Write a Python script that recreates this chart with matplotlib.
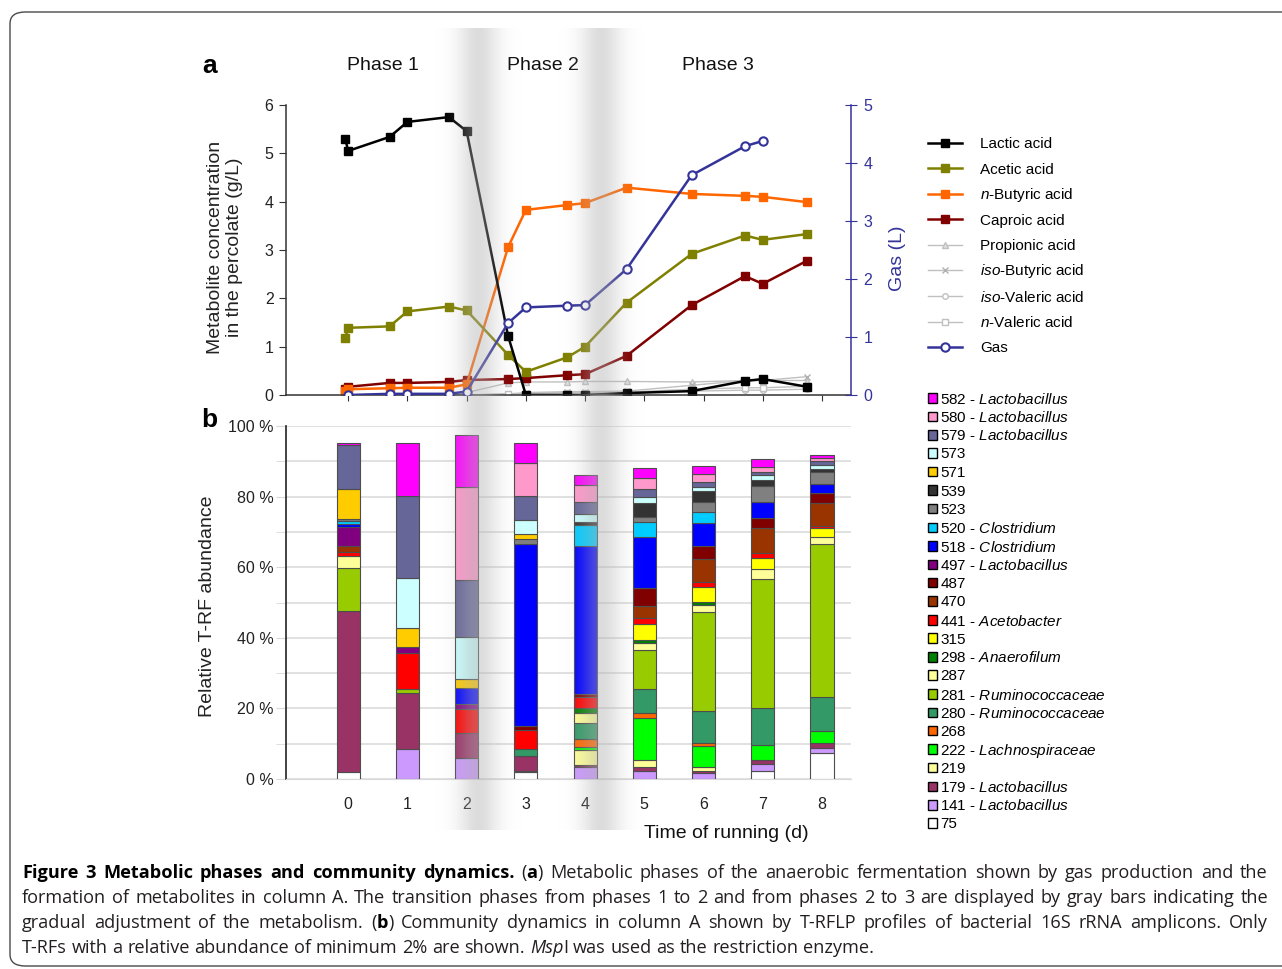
import re
import numpy as np
import matplotlib
matplotlib.use("Agg")
import matplotlib.pyplot as plt
from matplotlib.patches import Patch, FancyBboxPatch

plt.rcParams['font.family'] = ['Liberation Sans', 'DejaVu Sans']
plt.rcParams['mathtext.fontset'] = 'custom'
plt.rcParams['mathtext.rm'] = 'Liberation Sans'
plt.rcParams['mathtext.it'] = 'Liberation Sans:italic'

W, H = 1282, 969

# ---- panel a: metabolites in the percolate (g/L) and gas (L), time in days
sample_days = [-0.05, 0.0, 0.7, 1.0, 1.7, 2.0, 2.7, 3.0, 3.7, 4.0, 4.7, 5.8, 6.7, 7.0, 7.75]
lactic = [5.30, 5.05, 5.34, 5.65, 5.75, 5.46, 1.22, 0.0, 0.0, 0.0, 0.04, 0.08, 0.29, 0.33, 0.17]
acetic = [1.18, 1.39, 1.42, 1.73, 1.83, 1.75, 0.83, 0.48, 0.78, 1.00, 1.91, 2.92, 3.30, 3.21, 3.33]
butyric = [0.08, 0.12, 0.14, 0.15, 0.15, 0.22, 3.06, 3.83, 3.93, 3.97, 4.29, 4.16, 4.12, 4.10, 3.99]
caproic = [0.12, 0.17, 0.25, 0.25, 0.27, 0.31, 0.33, 0.35, 0.41, 0.43, 0.81, 1.86, 2.46, 2.30, 2.78]
propionic = [0, 0, 0, 0, 0, 0.05, 0.25, 0.27, 0.27, 0.28, 0.28, 0.27, 0.30, 0.30, 0.30]
iso_butyric = [0, 0, 0, 0, 0, 0, 0.02, 0.05, 0.07, 0.07, 0.08, 0.20, 0.30, 0.30, 0.38]
iso_valeric = [0, 0, 0, 0, 0, 0, 0.02, 0.03, 0.05, 0.05, 0.05, 0.08, 0.10, 0.10, 0.12]
n_valeric = [0, 0, 0, 0, 0, 0, 0.02, 0.03, 0.05, 0.05, 0.06, 0.12, 0.15, 0.15, 0.18]
gas = [np.nan, 0.0, 0.02, 0.02, 0.02, 0.06, 1.24, 1.51, 1.54, 1.55, 2.17, 3.79, 4.29, 4.38, np.nan]

transition_days = [2.2, 4.27]
phase_names = ['Phase 1', 'Phase 2', 'Phase 3']

# ---- panel b: relative T-RF abundance (%) per day, stacked bottom -> top
days = [0, 1, 2, 3, 4, 5, 6, 7, 8]
trf_names = ['75', '141', '179', '219', '222', '268', '280', '281', '287', '298', '315', '441',
             '470', '487', '497', '518', '520', '523', '539', '571', '573', '579', '580', '582']
trf_genus = ['', 'Lactobacillus', 'Lactobacillus', '', 'Lachnospiraceae', '', 'Ruminococcaceae',
             'Ruminococcaceae', '', 'Anaerofilum', '', 'Acetobacter', '', '', 'Lactobacillus',
             'Clostridium', 'Clostridium', '', '', '', '', 'Lactobacillus', 'Lactobacillus', 'Lactobacillus']
trf_colors = ['#ffffff', '#cc99ff', '#993366', '#ffff99', '#00ff00', '#ff6600', '#339966', '#99cc00',
              '#ffff99', '#008000', '#ffff00', '#ff0000', '#993300', '#800000', '#800080', '#0000ff',
              '#00ccff', '#808080', '#333333', '#ffcc00', '#ccffff', '#666699', '#ff99cc', '#ff00ff']

abund_75 = [2.1, 0, 0, 1.9, 0, 0, 0, 2.4, 7.3]
abund_141 = [0, 8.4, 6.0, 0.5, 3.3, 2.4, 1.6, 1.9, 1.5]
abund_179 = [45.6, 15.9, 7.0, 4.2, 0.8, 0.9, 0.8, 1.1, 1.3]
abund_219 = [0, 0, 0, 0, 4.2, 2.1, 0.9, 0, 0]
abund_222 = [0, 0, 0, 0, 0.9, 11.8, 6.1, 4.3, 3.4]
abund_268 = [0, 0, 0, 0, 2.2, 1.5, 0.7, 0, 0]
abund_280 = [0, 0, 0, 1.9, 4.4, 6.8, 9.3, 10.4, 9.6]
abund_281 = [12.2, 1.3, 0, 0, 0, 11.0, 27.9, 36.5, 43.4]
abund_287 = [3.4, 0, 0, 0, 2.9, 1.9, 1.9, 2.8, 2.1]
abund_298 = [0, 0, 0, 0, 1.4, 0.9, 0.9, 0, 0]
abund_315 = [0, 0, 0, 0, 0, 4.5, 4.2, 3.3, 2.6]
abund_441 = [1.1, 10.2, 6.9, 5.4, 3.2, 1.9, 1.4, 1.4, 0.5]
abund_470 = [1.6, 0, 0, 0, 0, 3.3, 6.6, 7.1, 6.6]
abund_487 = [0, 0, 0, 1.2, 0.9, 5.2, 3.8, 2.8, 2.6]
abund_497 = [5.5, 1.7, 1.4, 0, 0, 0, 0, 0, 0]
abund_518 = [0.8, 0, 4.4, 51.6, 41.8, 14.4, 6.3, 4.4, 2.7]
abund_520 = [0.7, 0, 0, 0, 5.9, 4.1, 3.1, 0, 0]
abund_523 = [0.7, 0, 0, 1.2, 0, 1.4, 3.0, 4.7, 3.4]
abund_539 = [0, 0, 0, 0, 0.8, 4.2, 3.1, 1.7, 0.9]
abund_571 = [8.5, 5.4, 2.6, 1.4, 0, 0, 0, 0, 0]
abund_573 = [0, 14.0, 12.0, 4.0, 2.5, 1.6, 1.2, 1.4, 1.1]
abund_579 = [12.5, 23.3, 16.1, 6.9, 3.3, 2.2, 1.4, 0.9, 1.1]
abund_580 = [0, 0, 26.2, 9.2, 4.7, 3.3, 2.3, 1.4, 0.8]
abund_582 = [0.6, 15.1, 14.9, 5.7, 2.8, 2.8, 2.2, 2.2, 0.9]

abundance = [abund_75, abund_141, abund_179, abund_219, abund_222, abund_268, abund_280,
             abund_281, abund_287, abund_298, abund_315, abund_441, abund_470, abund_487,
             abund_497, abund_518, abund_520, abund_523, abund_539, abund_571, abund_573,
             abund_579, abund_580, abund_582]

caption_lines = [
    "**Figure 3 Metabolic phases and community dynamics.** (**a**) Metabolic phases of the anaerobic fermentation shown by gas production and the",
    "formation of metabolites in column A. The transition phases from phases 1 to 2 and from phases 2 to 3 are displayed by gray bars indicating the",
    "gradual adjustment of the metabolism. (**b**) Community dynamics in column A shown by T-RFLP profiles of bacterial 16S rRNA amplicons. Only",
    "T-RFs with a relative abundance of minimum 2% are shown. *Msp*I was used as the restriction enzyme.",
]


def box(l, t, r, b):
    return [l / W, 1 - b / H, (r - l) / W, (b - t) / H]


def fx(px):
    return px / W


def fy(py):
    return 1 - py / H


def legend_rows(handles, labels, x, y0, dy, **kw):
    # one single-entry legend per row keeps the row pitch exact
    for i, (h, lab) in enumerate(zip(handles, labels)):
        fig.legend([h], [lab], loc='center left', bbox_to_anchor=(fx(x), fy(y0 + dy * i)),
                   frameon=False, borderpad=0, borderaxespad=0, **kw)


fig = plt.figure(figsize=(W / 100, H / 100), dpi=100)
fig.patch.set_facecolor('white')

# rounded frame around the whole figure
fig.patches.append(FancyBboxPatch((fx(10), fy(966)), fx(1300) - fx(10), fy(12) - fy(966),
                                  boxstyle='round,pad=0,rounding_size=0.012',
                                  transform=fig.transFigure, fill=False,
                                  edgecolor='#4a4a4a', linewidth=1.0))

XLIM = (-1.05, 8.49)

# ---------------- panel a
ax = fig.add_axes(box(286, 105, 851, 395))
ax.set_facecolor('none')
ax.set_xlim(*XLIM)
ax.set_ylim(0, 6)

minor = '#c0c0c0'
h_prop, = ax.plot(sample_days, propionic, color=minor, lw=1, marker='^', ms=4, mfc='#e0e0e0', mec=minor)
h_ibut, = ax.plot(sample_days, iso_butyric, color=minor, lw=1, marker='x', ms=5, mec='#b0b0b0')
h_ival, = ax.plot(sample_days, iso_valeric, color=minor, lw=1, marker='o', ms=4, mfc='white', mec=minor)
h_nval, = ax.plot(sample_days, n_valeric, color=minor, lw=1, marker='s', ms=4, mfc='white', mec=minor)
h_cap, = ax.plot(sample_days, caproic, color='#800000', lw=1.8, marker='s', ms=5.5)
h_but, = ax.plot(sample_days, butyric, color='#ff6600', lw=1.8, marker='s', ms=5.5)
h_ace, = ax.plot(sample_days, acetic, color='#808000', lw=1.8, marker='s', ms=5.5)
h_lac, = ax.plot(sample_days, lactic, color='black', lw=1.8, marker='s', ms=5.5)

for s in ['top', 'right']:
    ax.spines[s].set_visible(False)
ax.spines['left'].set_color('#333333')
ax.spines['bottom'].set_color('#333333')
ax.spines['left'].set_linewidth(1.1)
ax.spines['bottom'].set_linewidth(1.1)
ax.set_xticks(days)
ax.tick_params(axis='x', length=4, color='#333333', labelbottom=False)
ax.set_yticks(range(0, 7))
ax.tick_params(axis='y', length=5, color='#333333', labelsize=11.5, labelcolor='#222222', pad=4)

ax2 = ax.twinx()
ax2.set_facecolor('none')
ax2.set_ylim(0, 5)
navy = '#333399'
h_gas, = ax2.plot(sample_days, gas, color=navy, lw=1.8, marker='o', ms=6, mfc='white', mec=navy, mew=1.5)
for s in ['top', 'left', 'bottom']:
    ax2.spines[s].set_visible(False)
ax2.spines['right'].set_color(navy)
ax2.spines['right'].set_linewidth(1.1)
ax2.set_yticks(range(0, 6))
ax2.tick_params(axis='y', direction='inout', length=8, color=navy, labelcolor=navy, labelsize=11.5, pad=5)

fig.text(fx(225), fy(247), 'Metabolite concentration\nin the percolate (g/L)', rotation=90,
         ha='center', va='center', fontsize=14, color='#222222', linespacing=1.2)
fig.text(fx(897), fy(258), 'Gas (L)', rotation=90, ha='center', va='center', fontsize=14, color=navy)
fig.text(fx(210), fy(66), 'a', ha='center', va='center', fontsize=19, fontweight='bold')

for name, px in zip(phase_names, [383, 543, 718]):
    fig.text(fx(px), fy(66), name, ha='center', va='center', fontsize=14, color='#111111')

handles = [h_lac, h_ace, h_but, h_cap, h_prop, h_ibut, h_ival, h_nval, h_gas]
labels = ['Lactic acid', 'Acetic acid', r'$\mathit{n}$-Butyric acid', 'Caproic acid', 'Propionic acid',
          r'$\mathit{iso}$-Butyric acid', r'$\mathit{iso}$-Valeric acid', r'$\mathit{n}$-Valeric acid', 'Gas']
legend_rows(handles, labels, 928, 144, 25.5, fontsize=11, handlelength=2.2, handletextpad=1.2)

# ---------------- panel b
axb = fig.add_axes(box(286, 426, 851, 779))
axb.set_facecolor('none')
axb.set_xlim(*XLIM)
axb.set_ylim(0, 100)
bottom = np.zeros(len(days))
for vals, col in zip(abundance, trf_colors):
    v = np.array(vals, dtype=float)
    axb.bar(days, v, width=0.39, bottom=bottom, color=col, edgecolor='#4d4d4d',
            linewidth=np.where(v > 0, 0.8, 0.0), zorder=3)
    bottom += v

axb.set_yticks(range(0, 101, 20))
axb.set_yticklabels([f'{v} %' for v in range(0, 101, 20)])
axb.set_yticks(range(10, 100, 20), minor=True)
axb.grid(axis='y', which='both', color='#d9d9d9', lw=1.1, zorder=0)
axb.tick_params(axis='y', which='both', length=7, color='#d9d9d9', labelsize=11.5, labelcolor='#222222', pad=2)
axb.set_xticks(days)
axb.tick_params(axis='x', length=0, pad=13, labelsize=11.5, labelcolor='#222222')
for s in ['top', 'right']:
    axb.spines[s].set_visible(False)
axb.spines['bottom'].set_color('#d9d9d9')
axb.spines['left'].set_color('#222222')
axb.spines['left'].set_linewidth(1.2)

fig.text(fx(207), fy(606), 'Relative T-RF abundance', rotation=90, ha='center', va='center',
         fontsize=14, color='#222222')
fig.text(fx(726), fy(833), 'Time of running (d)', ha='center', va='center', fontsize=14, color='#111111')
fig.text(fx(209), fy(420), 'b', ha='center', va='center', fontsize=19, fontweight='bold')

trf_handles = []
trf_labels = []
for name, genus, col in zip(trf_names[::-1], trf_genus[::-1], trf_colors[::-1]):
    trf_handles.append(Patch(facecolor=col, edgecolor='black', linewidth=1))
    trf_labels.append(f'{name} - $\\mathit{{{genus}}}$' if genus else name)
legend_rows(trf_handles, trf_labels, 928, 399, 18.5, fontsize=11, handlelength=0.6,
            handleheight=0.6, handletextpad=0.2)

# ---------------- gray transition bands, drawn over both panels
ov = fig.add_axes([0, 0, 1, 1], zorder=10)
ov.set_xlim(0, W)
ov.set_ylim(H, 0)
ov.axis('off')
xs = np.arange(W) + 0.5
alpha = np.zeros(W)
for d in transition_days:
    cx = ax.transData.transform((d, 0))[0]
    alpha = np.maximum(alpha, 0.45 * np.exp(-0.5 * ((xs - cx) / 14.0) ** 2))
rgba = np.zeros((1, W, 4))
rgba[..., :3] = 0.7
rgba[0, :, 3] = alpha
ov.imshow(rgba, extent=(0, W, 830, 28), aspect='auto', interpolation='bilinear')


# ---------------- caption, justified word by word
def parse(line):
    words = [[]]
    for m in re.finditer(r'\*\*(.+?)\*\*|\*(.+?)\*|([^*]+)', line):
        if m.group(1):
            text, style = m.group(1), 'b'
        elif m.group(2):
            text, style = m.group(2), 'i'
        else:
            text, style = m.group(3), 'n'
        for i, p in enumerate(text.split(' ')):
            if i > 0:
                words.append([])
            if p:
                words[-1].append((p, style))
    return [w for w in words if w]


cap_fs = 13.1
renderer = fig.canvas.get_renderer()
left, right = 22, 1268
for k, line in enumerate(caption_lines):
    y = 878 + 25 * k
    placed = []
    for word in parse(line):
        parts = []
        for text, style in word:
            t = fig.text(0, fy(y), text, fontsize=cap_fs, family=['Open Sans', 'DejaVu Sans'],
                         fontweight='bold' if style == 'b' else 'normal',
                         fontstyle='italic' if style == 'i' else 'normal',
                         color='black' if style == 'b' else '#231f20', va='baseline')
            parts.append((t, t.get_window_extent(renderer).width))
        placed.append(parts)
    total = sum(w for parts in placed for _, w in parts)
    if k < len(caption_lines) - 1:
        gap = (right - left - total) / (len(placed) - 1)
    else:
        gap = 0.26 * cap_fs * 100 / 72
    x = left
    for parts in placed:
        for t, w in parts:
            t.set_x(fx(x))
            x += w
        x += gap

fig.savefig('out.png', dpi=100)
